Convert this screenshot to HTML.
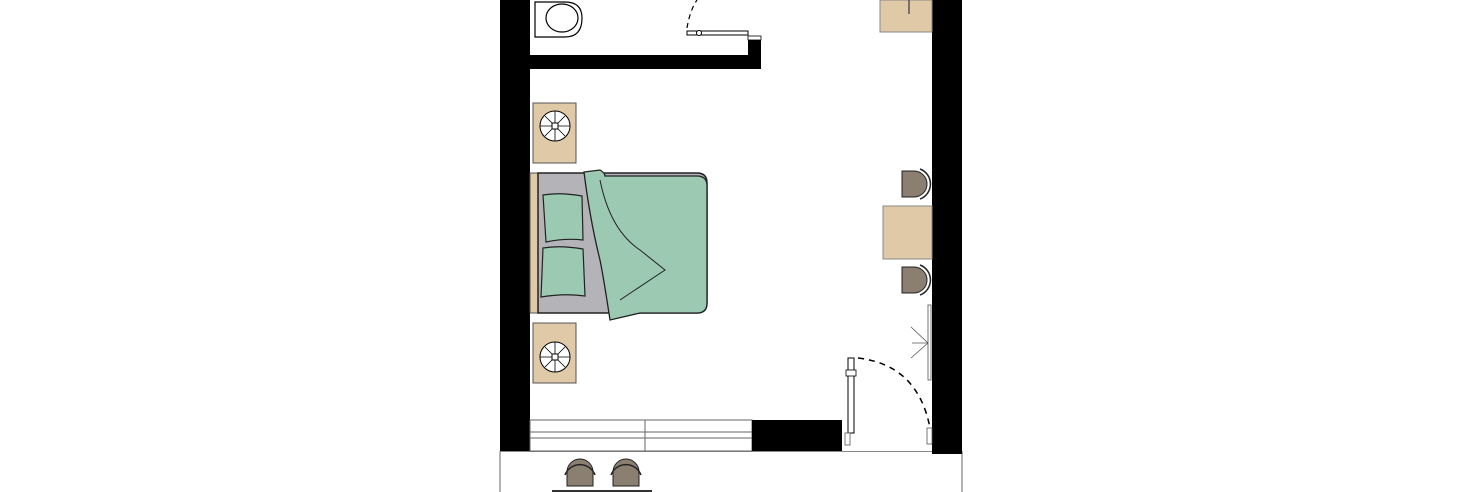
<!DOCTYPE html>
<html><head><style>body{margin:0;background:#fff}svg{display:block}</style></head><body>
<svg width="1462" height="492" viewBox="0 0 1462 492" xmlns="http://www.w3.org/2000/svg">
<rect width="1462" height="492" fill="#fff"/>
<!-- balcony outline -->
<line x1="500" y1="451" x2="500" y2="492" stroke="#999" stroke-width="1.5"/>
<line x1="962" y1="451" x2="962" y2="492" stroke="#999" stroke-width="1.5"/>
<line x1="500" y1="451.5" x2="962" y2="451.5" stroke="#888" stroke-width="1"/>
<!-- walls -->
<rect x="500" y="0" width="30" height="451" fill="#000"/>
<rect x="932" y="0" width="30" height="454" fill="#000"/>
<rect x="530" y="55" width="231" height="14" fill="#000"/>
<rect x="748" y="36" width="13" height="33" fill="#000"/>
<rect x="748" y="36" width="13" height="4" fill="#fff" stroke="#000" stroke-width="0.8"/>
<!-- bathroom door -->
<rect x="687" y="31" width="61" height="4" fill="#fff" stroke="#000" stroke-width="1"/>
<circle cx="699" cy="33" r="2.5" fill="#fff" stroke="#000"/>
<path d="M687 28 Q690 10 697 0" fill="none" stroke="#000" stroke-width="1.2" stroke-dasharray="5,4"/>
<!-- toilet -->
<path d="M535 2 H565 Q582 2 582 18 Q582 37 565 37 H535 Z" fill="#fff" stroke="#000" stroke-width="1.2"/>
<ellipse cx="562" cy="18" rx="16" ry="14" fill="#fff" stroke="#000" stroke-width="1.2"/>
<!-- top right cabinet -->
<rect x="880" y="0" width="52" height="32" fill="#e0c9a6" stroke="#888" stroke-width="1"/>
<line x1="909" y1="0" x2="909" y2="14" stroke="#555" stroke-width="1.5"/>
<!-- nightstands -->
<rect x="533" y="103" width="43" height="60" fill="#e0c9a6" stroke="#555" stroke-width="1"/>
<g transform="translate(555,126)"><circle r="15" fill="#fff" stroke="#000"/><rect x="-3" y="-3" width="6" height="6" fill="none" stroke="#000"/><path d="M0 -15V-3M0 3V15M-15 0H-3M3 0H15M-10 -10L-3 -3M10 10L3 3M10 -10L3 -3M-10 10L-3 3" stroke="#000" stroke-width="0.8"/></g>
<rect x="533" y="323" width="43" height="60" fill="#e0c9a6" stroke="#555" stroke-width="1"/>
<g transform="translate(555,357)"><circle r="15" fill="#fff" stroke="#000"/><rect x="-3" y="-3" width="6" height="6" fill="none" stroke="#000"/><path d="M0 -15V-3M0 3V15M-15 0H-3M3 0H15M-10 -10L-3 -3M10 10L3 3M10 -10L3 -3M-10 10L-3 3" stroke="#000" stroke-width="0.8"/></g>
<!-- bed -->
<rect x="530" y="173" width="8" height="140" fill="#e0c9a6" stroke="#555" stroke-width="1"/>
<path d="M538 173 H697 Q707 173 707 183 V303 Q707 313 697 313 H538 Z" fill="#b4b4b8" stroke="#222" stroke-width="1.5"/>
<path d="M584 172 L600 170 Q605 173 605 176 H697 Q707 176 707 186 V303 Q707 313 697 313 H640 L610 320 Q604 280 600 260 Q590 220 584 172 Z" fill="#9cc9b2" stroke="#222" stroke-width="1.3"/>
<path d="M600 180 Q610 230 640 250 L665 270 L620 300" fill="none" stroke="#222" stroke-width="1"/>
<path d="M543 195 Q560 192 582 196 L583 240 Q565 238 546 242 Z" fill="#9cc9b2" stroke="#222" stroke-width="1.2"/>
<path d="M543 248 Q560 245 583 249 L585 296 Q565 293 541 297 Z" fill="#9cc9b2" stroke="#222" stroke-width="1.2"/>
<!-- right desk and chairs -->
<rect x="883" y="206" width="49" height="53" fill="#e0c9a6" stroke="#888" stroke-width="1"/>
<path d="M902 171 H914 A13 13 0 0 1 914 197 H902 Z" fill="#8a7f70" stroke="#222" stroke-width="1"/>
<path d="M920 169 A16 16 0 0 1 920 199" fill="none" stroke="#222" stroke-width="1.5"/>
<path d="M902 267 H914 A13 13 0 0 1 914 293 H902 Z" fill="#8a7f70" stroke="#222" stroke-width="1"/>
<path d="M920 265 A16 16 0 0 1 920 295" fill="none" stroke="#222" stroke-width="1.5"/>
<!-- closet door -->
<rect x="928" y="305" width="3" height="75" fill="#fff" stroke="#555" stroke-width="0.8"/>
<path d="M911 327 L928 343 L911 358 M912 343 H928" fill="none" stroke="#555" stroke-width="0.8"/>
<!-- entrance door -->
<rect x="848" y="358" width="6" height="75" fill="#fff" stroke="#000" stroke-width="1"/>
<rect x="846" y="370" width="10" height="6" fill="#fff" stroke="#000" stroke-width="0.8"/>
<rect x="845" y="433" width="5" height="12" fill="#fff" stroke="#555" stroke-width="0.8"/>
<rect x="927" y="428" width="5" height="16" fill="#fff" stroke="#555" stroke-width="0.8"/>
<path d="M858 358 Q918 365 930 428" fill="none" stroke="#000" stroke-width="1.5" stroke-dasharray="6,5"/>
<!-- window -->
<rect x="530" y="420" width="222" height="31" fill="#fff" stroke="#666" stroke-width="1"/>
<line x1="530" y1="432" x2="752" y2="432" stroke="#666"/>
<line x1="530" y1="438" x2="752" y2="438" stroke="#666"/>
<line x1="645" y1="420" x2="645" y2="451" stroke="#666"/>
<rect x="752" y="420" width="90" height="31" fill="#000"/>
<!-- balcony chairs -->
<g fill="#8a7f70" stroke="#222" stroke-width="1">
<path d="M567 486 V472 A13 13 0 0 1 593 472 V486 Z"/><path d="M565 475 A16 16 0 0 1 595 475" fill="none" stroke-width="1.5"/>
<path d="M613 486 V472 A13 13 0 0 1 639 472 V486 Z"/><path d="M611 475 A16 16 0 0 1 641 475" fill="none" stroke-width="1.5"/>
</g>
<line x1="552" y1="491" x2="652" y2="491" stroke="#333" stroke-width="2"/>
</svg>
</body></html>
